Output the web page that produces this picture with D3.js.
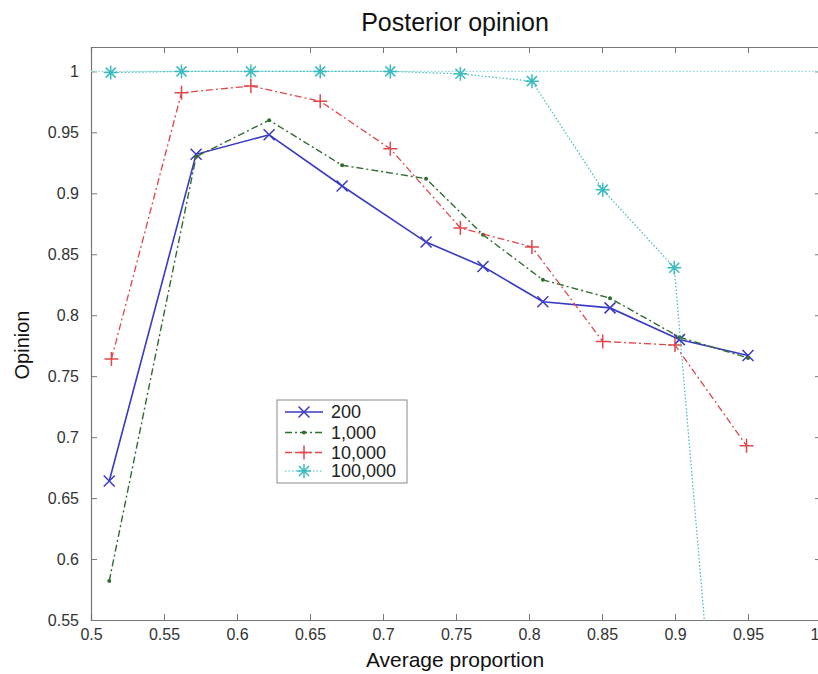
<!DOCTYPE html>
<html>
<head>
<meta charset="utf-8">
<script src="https://cdn.jsdelivr.net/npm/d3@7"></script>
<style>
  html, body { margin: 0; padding: 0; background: #fff; }
  svg { display: block; font-family: "Liberation Sans", Arial, Helvetica, sans-serif; }
</style>
</head>
<body>
<svg id="chart" width="818" height="674"></svg>
<script>
// ---- data ----
const seriesNames = ["200", "1,000", "10,000", "100,000"];
const x200 = [0.5125, 0.572, 0.622, 0.672, 0.7295, 0.7685, 0.8095, 0.8555, 0.903, 0.95];
const y200 = [0.664, 0.932, 0.948, 0.906, 0.860, 0.840, 0.811, 0.806, 0.780, 0.767];
const x1000 = [0.5125, 0.572, 0.622, 0.672, 0.7295, 0.7685, 0.8095, 0.8555, 0.903, 0.95];
const y1000 = [0.582, 0.930, 0.960, 0.923, 0.912, 0.866, 0.829, 0.814, 0.782, 0.765];
const x10000 = [0.514, 0.562, 0.6095, 0.657, 0.705, 0.753, 0.802, 0.8505, 0.9, 0.949];
const y10000 = [0.764, 0.9825, 0.988, 0.9755, 0.9365, 0.8716, 0.856, 0.7785, 0.7755, 0.693];
const x100000 = [0.5135, 0.562, 0.6095, 0.657, 0.705, 0.753, 0.802, 0.8505, 0.8995, 0.95];
const y100000 = [0.999, 1.0, 1.0, 1.0, 1.0, 0.998, 0.992, 0.903, 0.839, 0.13];
const refX = [0.5, 1.0];
const refY = [1.0, 1.0];
const xTicks = [0.5, 0.55, 0.6, 0.65, 0.7, 0.75, 0.8, 0.85, 0.9, 0.95, 1];
const yTicks = [0.55, 0.6, 0.65, 0.7, 0.75, 0.8, 0.85, 0.9, 0.95, 1];
const titleText = "Posterior opinion";
const xLabel = "Average proportion";
const yLabel = "Opinion";

// ---- layout ----
const svg = d3.select("#chart");
const M = { left: 91, top: 47, right: 821, bottom: 620 };
const x = d3.scaleLinear().domain([0.5, 1.0]).range([M.left, M.right]);
const y = d3.scaleLinear().domain([0.55, 1.02]).range([M.bottom, M.top]);

const styles = [
  { color: "#3a3ac4", dash: null, width: 1.6, marker: "x" },
  { color: "#2f6e2f", dash: "7,3,2,3", width: 1.4, marker: "dot" },
  { color: "#e0474a", dash: "7,3,2,3", width: 1.3, marker: "plus" },
  { color: "#3cbcc0", dash: "1.5,2", width: 1.2, marker: "star" }
];
const series = [
  { name: seriesNames[0], xs: x200, ys: y200 },
  { name: seriesNames[1], xs: x1000, ys: y1000 },
  { name: seriesNames[2], xs: x10000, ys: y10000 },
  { name: seriesNames[3], xs: x100000, ys: y100000 }
];

svg.append("defs").append("clipPath").attr("id", "clip")
  .append("rect").attr("x", M.left).attr("y", M.top)
  .attr("width", M.right - M.left).attr("height", M.bottom - M.top);

// axes box
const axisColor = "#777";
const fmt = d => String(+d.toFixed(2));
const gx = svg.append("g").attr("transform", `translate(0,${M.bottom})`)
  .call(d3.axisBottom(x).tickValues(xTicks).tickSize(-6).tickPadding(9).tickFormat(fmt));
const gxTop = svg.append("g").attr("transform", `translate(0,${M.top})`)
  .call(d3.axisTop(x).tickValues(xTicks).tickSize(-6).tickFormat(""));
const gy = svg.append("g").attr("transform", `translate(${M.left},0)`)
  .call(d3.axisLeft(y).tickValues(yTicks).tickSize(-6).tickPadding(12).tickFormat(fmt));
const gyR = svg.append("g").attr("transform", `translate(${M.right},0)`)
  .call(d3.axisRight(y).tickValues(yTicks).tickSize(-6).tickFormat(""));
[gx, gxTop, gy, gyR].forEach(g => {
  g.select(".domain").attr("stroke", axisColor).attr("stroke-width", 1.2);
  g.selectAll(".tick line").attr("stroke", axisColor);
  g.selectAll(".tick text").attr("fill", "#333").style("font-size", "16px")
    .style("font-family", "'Liberation Sans', Arial, sans-serif");
});
// last x label sits at the window edge: keep it inside
gx.selectAll(".tick text").filter(d => d === 1).attr("text-anchor", "end").attr("x", -2);

// reference line at 1
const line = d3.line().x(d => x(d[0])).y(d => y(d[1]));
const plot = svg.append("g").attr("clip-path", "url(#clip)");
plot.append("path").datum(d3.zip(refX, refY)).attr("d", line)
  .attr("fill", "none").attr("stroke", "#a9dfe0").attr("stroke-width", 1.2)
  .attr("stroke-dasharray", "2,1.5");

function drawMarker(g, type, cx, cy, color) {
  const s = 5.5;
  if (type === "x") {
    g.append("path").attr("d", `M${cx - s},${cy - s}L${cx + s},${cy + s}M${cx - s},${cy + s}L${cx + s},${cy - s}`)
      .attr("stroke", color).attr("stroke-width", 1.5).attr("fill", "none");
  } else if (type === "plus") {
    const p = 7;
    g.append("path").attr("d", `M${cx - p},${cy}L${cx + p},${cy}M${cx},${cy - p}L${cx},${cy + p}`)
      .attr("stroke", color).attr("stroke-width", 1.5).attr("fill", "none");
  } else if (type === "star") {
    const p = 7, q = 5;
    g.append("path").attr("d",
      `M${cx - p},${cy}L${cx + p},${cy}M${cx},${cy - p}L${cx},${cy + p}` +
      `M${cx - q},${cy - q}L${cx + q},${cy + q}M${cx - q},${cy + q}L${cx + q},${cy - q}`)
      .attr("stroke", color).attr("stroke-width", 1.5).attr("fill", "none");
  } else if (type === "dot") {
    g.append("circle").attr("cx", cx).attr("cy", cy).attr("r", 2).attr("fill", color);
  }
}

series.forEach((s, i) => {
  const st = styles[i];
  const pts = d3.zip(s.xs, s.ys);
  plot.append("path").datum(pts).attr("d", line)
    .attr("fill", "none").attr("stroke", st.color).attr("stroke-width", st.width)
    .attr("stroke-dasharray", st.dash);
  const mg = plot.append("g");
  pts.forEach(p => drawMarker(mg, st.marker, x(p[0]), y(p[1]), st.color));
});

// title and labels
svg.append("text").attr("x", 455).attr("y", 31).attr("text-anchor", "middle")
  .style("font-size", "25px").attr("fill", "#111").text(titleText);
svg.append("text").attr("x", 455).attr("y", 667).attr("text-anchor", "middle")
  .style("font-size", "21px").attr("fill", "#111").text(xLabel);
svg.append("text").attr("transform", "translate(29,345) rotate(-90)").attr("text-anchor", "middle")
  .style("font-size", "20px").attr("fill", "#111").text(yLabel);

// legend
const L = { x: 277, y: 400, w: 130, h: 83 };
const lg = svg.append("g");
lg.append("rect").attr("x", L.x).attr("y", L.y).attr("width", L.w).attr("height", L.h)
  .attr("fill", "#fff").attr("stroke", "#888").attr("stroke-width", 1);
const rowY = [412, 432.5, 452.5, 471];
series.forEach((s, i) => {
  const st = styles[i];
  lg.append("line").attr("x1", 285).attr("x2", 323).attr("y1", rowY[i]).attr("y2", rowY[i])
    .attr("stroke", st.color).attr("stroke-width", st.width).attr("stroke-dasharray", st.dash);
  drawMarker(lg, st.marker, 304, rowY[i], st.color);
  lg.append("text").attr("x", 331).attr("y", rowY[i]).attr("dy", "0.36em")
    .style("font-size", "18px").attr("fill", "#222").text(s.name);
});
</script>
</body>
</html>
